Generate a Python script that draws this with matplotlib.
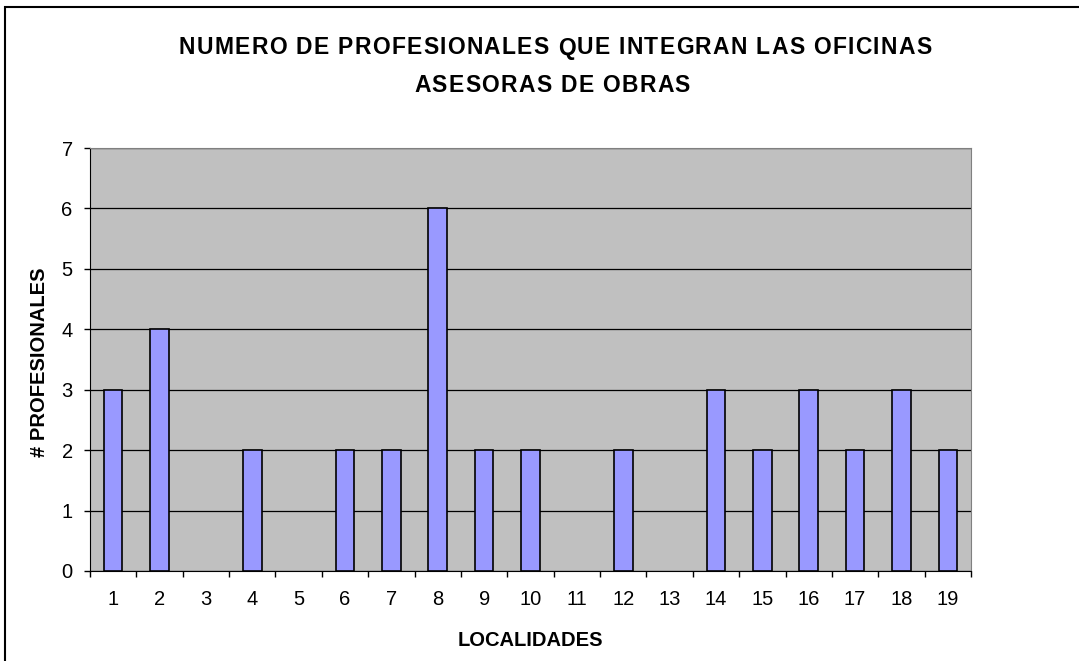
import matplotlib
matplotlib.use("Agg")
import numpy as np
from matplotlib import pyplot as plt
from matplotlib.patches import Rectangle
from matplotlib.font_manager import FontProperties

# === datos ===
localidades = [str(i) for i in range(1, 20)]
profesionales = [3, 4, 0, 2, 0, 2, 2, 6, 2, 2, 0, 2, 0, 3, 2, 3, 2, 3, 2]

titulo = ["NUMERO DE PROFESIONALES QUE INTEGRAN LAS OFICINAS", "ASESORAS DE OBRAS"]
etiqueta_x = "LOCALIDADES"
etiqueta_y = "# PROFESIONALES"

plt.rcParams['font.family'] = ['Liberation Sans', 'DejaVu Sans']

W, H = 1079, 661
fig = plt.figure(figsize=(W / 100, H / 100), dpi=100)
renderer = fig.canvas.get_renderer()


def texto_espaciado(s, cx, cy, prop, extra=2.0):
    """Texto centrado en (cx, cy) pixeles con espacio extra entre letras."""
    anchos = [renderer.get_text_width_height_descent(s[:i], prop, ismath=False)[0] if i else 0
              for i in range(len(s) + 1)]
    total = anchos[-1] + extra * (len(s) - 1)
    x0 = cx - total / 2
    for i, c in enumerate(s):
        fig.text((x0 + anchos[i] + extra * i) / W, 1 - cy / H, c, fontproperties=prop,
                 ha='left', va='center')


# marco del grafico (borde izquierdo y superior visibles)
fig.patches.append(Rectangle((5 / W, -0.1), 1.2, 1 - 7 / H + 0.1, transform=fig.transFigure,
                             fill=False, edgecolor='black', linewidth=1.5))

# area de trazado
left, right, top, bottom = 90, 971, 148, 571
ax = fig.add_axes([left / W, 1 - bottom / H, (right - left) / W, (bottom - top) / H])
ax.set_facecolor('#C0C0C0')

x = np.arange(len(localidades))
anchos_borde = [1.2 if v > 0 else 0 for v in profesionales]
ax.bar(x, profesionales, width=0.4, color='#9999FF', edgecolor='black',
       linewidth=anchos_borde, zorder=3)

ax.set_xlim(-0.5, len(localidades) - 0.5)
ax.set_ylim(0, 7)
ax.set_yticks(range(0, 8))
ax.yaxis.grid(True, color='black', linewidth=0.9, zorder=1)
ax.set_axisbelow(True)

# ticks del eje x entre categorias
ax.set_xticks(np.arange(-0.5, len(localidades), 1))
ax.set_xticklabels([])
ax.set_xticks(x, minor=True)
ax.set_xticklabels(localidades, minor=True)
ax.tick_params(axis='x', which='minor', length=0, pad=14, labelsize=14.5)
ax.tick_params(axis='x', which='major', length=4.5, direction='out', width=1)
ax.tick_params(axis='y', length=4.5, direction='out', width=1, labelsize=14.5, pad=8)

for s in ['top', 'right']:
    ax.spines[s].set_color('#808080')
for s in ['left', 'bottom']:
    ax.spines[s].set_color('black')

fp_titulo = FontProperties(family='Liberation Sans', weight='bold', size=16.5)
texto_espaciado(titulo[0], 555, 48, fp_titulo, extra=1.3)
texto_espaciado(titulo[1], 552, 85, fp_titulo, extra=1.3)

fig.text(530 / W, 1 - 640 / H, etiqueta_x, ha='center', va='center', fontsize=14.5, fontweight='bold')
fig.text(40 / W, 1 - 362 / H, etiqueta_y, ha='center', va='center', rotation=90,
         fontsize=14.5, fontweight='bold')

fig.savefig("out.png", dpi=100)
